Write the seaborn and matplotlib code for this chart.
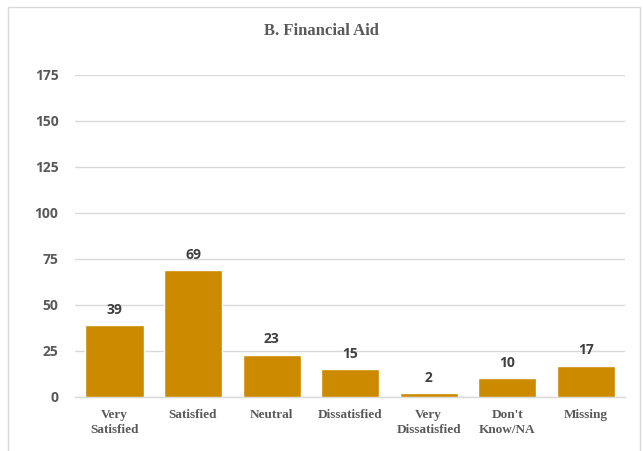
import pandas as pd
import matplotlib.pyplot as plt
import seaborn as sns
from matplotlib.patches import Rectangle

# data
categories = ["Very\nSatisfied", "Satisfied", "Neutral", "Dissatisfied",
              "Very\nDissatisfied", "Don't\nKnow/NA", "Missing"]
counts = [39, 69, 23, 15, 2, 10, 17]
y_ticks = [0, 25, 50, 75, 100, 125, 150, 175]

df = pd.DataFrame({"category": categories, "count": counts})

sns.set_style("white")

fig = plt.figure(figsize=(6.43, 4.51), dpi=100)
ax = fig.add_axes([0.117, 0.12, 0.855, 0.714])

# outer chart frame
fig.patches.append(Rectangle((0.012, -0.01), 0.984, 0.995, transform=fig.transFigure,
                             fill=False, edgecolor="#D9D9D9", linewidth=1.0))

sns.barplot(data=df, x="category", y="count", color="#CC8A00", saturation=1,
            width=0.74, ax=ax, zorder=3)

ax.set_ylim(0, 175)
ax.set_yticks(y_ticks)
ax.grid(axis="y", color="#D9D9D9", linewidth=1.0, zorder=0)
ax.set_axisbelow(True)
for s in ["top", "right", "left"]:
    ax.spines[s].set_visible(False)
ax.spines["bottom"].set_color("#D9D9D9")
ax.spines["bottom"].set_linewidth(1.0)
ax.tick_params(axis="both", length=0)
ax.tick_params(axis="y", pad=12)
ax.tick_params(axis="x", pad=9)
ax.set_xlabel("")
ax.set_ylabel("")

for lbl in ax.get_yticklabels():
    lbl.set_fontfamily("Open Sans")
    lbl.set_fontweight("bold")
    lbl.set_fontsize(10)
    lbl.set_color("#595959")
for lbl in ax.get_xticklabels():
    lbl.set_fontfamily("Liberation Serif")
    lbl.set_fontweight("bold")
    lbl.set_fontsize(9.5)
    lbl.set_color("#595959")
    lbl.set_linespacing(1.25)
    lbl.set_multialignment("center")

for c in ax.containers:
    ax.bar_label(c, padding=6, fontsize=10, fontweight="bold", color="#404040",
                 fontfamily="Open Sans")

fig.text(0.5, 0.932, "B. Financial Aid", ha="center", va="center",
         fontfamily="Liberation Serif", fontweight="bold", fontsize=12, color="#595959")

fig.savefig("out.png", dpi=100)
